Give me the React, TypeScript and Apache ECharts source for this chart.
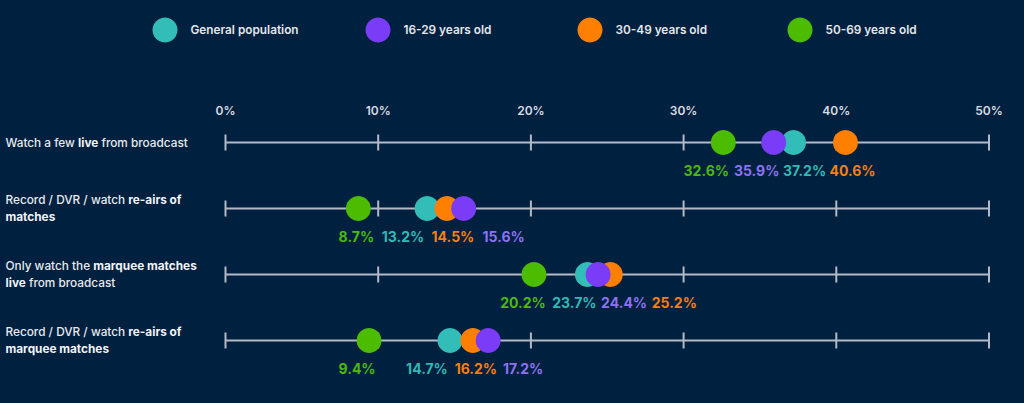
import React, { useEffect, useRef } from "react";
import * as echarts from "echarts";

const categories = [
  "Watch a few {b|live} from broadcast",
  "Record / DVR / watch {b|re-airs of}\n{b|matches}",
  "Only watch the {b|marquee matches}\n{b|live} from broadcast",
  "Record / DVR / watch {b|re-airs of}\n{b|marquee matches}",
];

const groups = ["General population", "16-29 years old", "30-49 years old", "50-69 years old"];

const generalPopulation = [37.2, 13.2, 23.7, 14.7];
const age16to29 = [35.9, 15.6, 24.4, 17.2];
const age30to49 = [40.6, 14.5, 25.2, 16.2];
const age50to69 = [32.6, 8.7, 20.2, 9.4];

const tickValues = [0, 10, 20, 30, 40, 50];

// label horizontal shifts (px) to avoid overlapping value labels
const shiftGeneral = [11, -24, -13, -23];
const shift16 = [-17, 40, 26, 35];
const shift30 = [7, 6, 64, 3];
const shift50 = [-17, -2, -11, -12];

// legend item left edges (px)
const legendLefts = [147.5, 360.5, 572.5, 782.5];

const COLORS = {
  general: "#33bdb9",
  y16: "#7a3cf6",
  y30: "#ff8000",
  y50: "#4cbc00",
};
const LABEL_COLORS = {
  general: "#31b8b5",
  y16: "#8c72f2",
  y30: "#f57f12",
  y50: "#4cb812",
};

const FONT = "Inter, 'Noto Sans', sans-serif";

function dotSeries(name: string, values: number[], shifts: number[], color: string, labelColor: string) {
  return {
    type: "scatter",
    name,
    symbol: "circle",
    symbolSize: 25,
    itemStyle: { color, opacity: 1 },
    z: 5,
    data: values.map((v, i) => ({
      value: [v, i],
      label: { offset: [shifts[i], 0] },
    })),
    label: {
      show: true,
      position: "bottom",
      distance: 8,
      color: labelColor,
      fontFamily: FONT,
      fontSize: 14,
      fontWeight: 700,
      formatter: (p: any) => p.value[0].toFixed(1) + "%",
    },
    emphasis: { disabled: true },
  };
}

export default function App() {
  const ref = useRef<HTMLDivElement>(null);
  useEffect(() => {
    if (!ref.current) return;
    const chart = echarts.init(ref.current, undefined, { renderer: "svg" });
    chart.setOption({
      animation: false,
      backgroundColor: "#00203f",
      textStyle: { fontFamily: FONT },
      legend: groups.map((g, i) => ({
        top: 12.5,
        left: legendLefts[i],
        icon: "circle",
        itemWidth: 25,
        itemHeight: 25,
        data: [g],
        selectedMode: false,
        textStyle: {
          color: "#e4e7ec",
          fontSize: 11.8,
          fontWeight: 600,
          fontFamily: FONT,
          padding: [0, 0, 0, 8],
        },
      })),
      grid: { left: 225.5, right: 35, top: 142.5, bottom: 62.5 },
      xAxis: {
        type: "value",
        position: "top",
        min: 0,
        max: 50,
        interval: 10,
        splitLine: { show: false },
        axisLine: { show: false },
        axisTick: { show: false },
        axisLabel: {
          margin: 26,
          color: "#d8dce4",
          fontSize: 12,
          fontWeight: 600,
          fontFamily: FONT,
          formatter: "{value}%",
        },
      },
      yAxis: {
        type: "category",
        inverse: true,
        boundaryGap: false,
        data: categories,
        axisLine: { show: false },
        axisTick: { show: false },
        splitLine: { show: false },
        axisLabel: {
          align: "left",
          margin: 220,
          color: "#e8eaef",
          fontSize: 11.8,
          fontWeight: 500,
          fontFamily: FONT,
          lineHeight: 17,
          rich: {
            b: { fontWeight: 700, color: "#f2f3f6", fontSize: 11.8, fontFamily: FONT, lineHeight: 17 },
          },
        },
      },
      series: [
        {
          type: "custom",
          name: "rows",
          z: 1,
          silent: true,
          data: categories.map((_, i) => [0, i]),
          encode: { x: 0, y: 1 },
          renderItem: (params: any, api: any) => {
            const idx = api.value(1);
            const start = api.coord([tickValues[0], idx]);
            const end = api.coord([tickValues[tickValues.length - 1], idx]);
            const lineStyle = { stroke: "#b3b9c5", lineWidth: 2 };
            const children: any[] = [
              { type: "line", shape: { x1: start[0], y1: start[1], x2: end[0], y2: end[1] }, style: lineStyle },
            ];
            tickValues.forEach((t) => {
              const p = api.coord([t, idx]);
              children.push({
                type: "line",
                shape: { x1: p[0], y1: p[1] - 8, x2: p[0], y2: p[1] + 8 },
                style: lineStyle,
              });
            });
            return { type: "group", children };
          },
        },
        dotSeries(groups[3], age50to69, shift50, COLORS.y50, LABEL_COLORS.y50),
        dotSeries(groups[0], generalPopulation, shiftGeneral, COLORS.general, LABEL_COLORS.general),
        dotSeries(groups[2], age30to49, shift30, COLORS.y30, LABEL_COLORS.y30),
        dotSeries(groups[1], age16to29, shift16, COLORS.y16, LABEL_COLORS.y16),
      ],
    });
    return () => chart.dispose();
  }, []);
  return (
    <div
      ref={ref}
      style={{ position: "fixed", left: 0, top: 0, width: 1024, height: 403 }}
    />
  );
}
